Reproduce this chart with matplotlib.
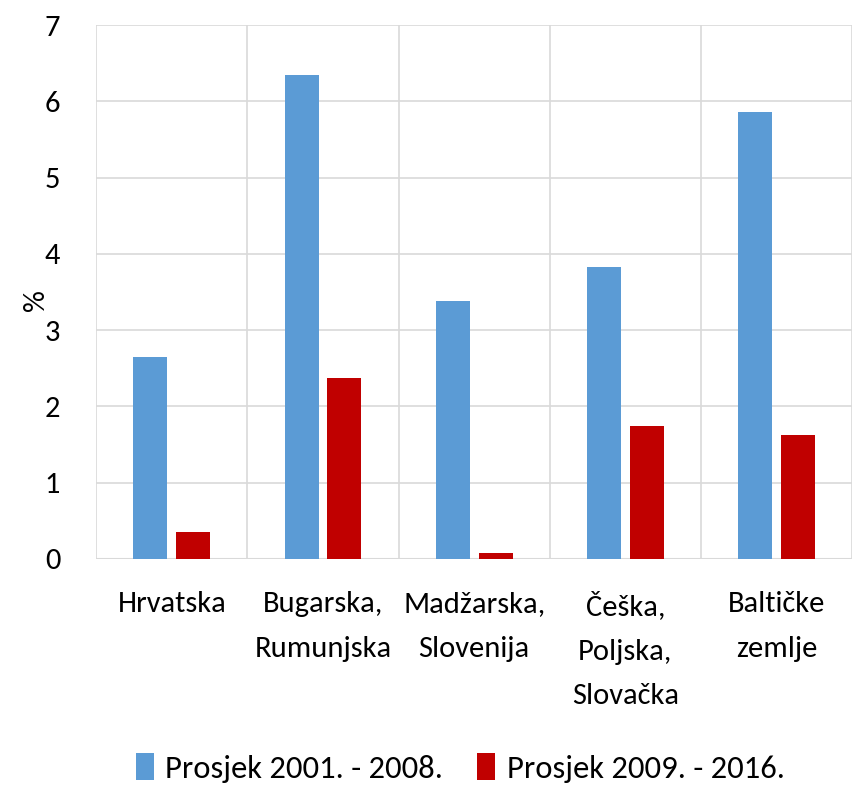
import matplotlib.pyplot as plt
import numpy as np

plt.rcParams['font.family'] = ['Carlito', 'Lato', 'DejaVu Sans']

categories = ['Hrvatska', 'Bugarska,\nRumunjska', 'Madžarska,\nSlovenija',
              'Češka,\nPoljska,\nSlovačka', 'Baltičke\nzemlje']
avg_2001_2008 = [2.65, 6.35, 3.38, 3.83, 5.86]
avg_2009_2016 = [0.35, 2.37, 0.07, 1.74, 1.62]
series_labels = ['Prosjek 2001. - 2008.', 'Prosjek 2009. - 2016.']

fig = plt.figure(figsize=(8.52, 7.87), dpi=100)
ax = fig.add_axes([0.113, 0.29, 0.887, 0.678])

x = np.arange(len(categories))
w = 0.225
ax.bar(x - 0.142, avg_2001_2008, w, color='#5b9bd5', label=series_labels[0], zorder=3)
ax.bar(x + 0.142, avg_2009_2016, w, color='#c00000', label=series_labels[1], zorder=3)

ax.set_xlim(-0.5, len(categories) - 0.5)
ax.set_ylim(0, 7)
ax.set_yticks(range(8))
ax.set_xticks(x)
ax.set_xticklabels(categories, fontsize=22, linespacing=1.9)
ax.set_xticks(np.arange(-0.5, len(categories)), minor=True)
ax.tick_params(axis='y', labelsize=22, length=0, pad=26)
ax.tick_params(axis='x', which='both', length=0, pad=23)
ax.grid(axis='y', color='#d9d9d9', lw=1.2, zorder=0)
ax.grid(axis='x', which='minor', color='#d9d9d9', lw=1.2, zorder=0)
for s in ['top', 'right', 'bottom', 'left']:
    ax.spines[s].set_visible(False)
ax.axhline(0, color='#d9d9d9', lw=1.5, zorder=2)

ax.set_ylabel('%', fontsize=22)
ax.yaxis.set_label_coords(-0.062, 0.485)

fig.legend(loc='center', bbox_to_anchor=(0.54, 0.024), ncol=2, frameon=False,
           fontsize=23.5, handlelength=0.55, handleheight=0.9, handletextpad=0.35,
           columnspacing=1.05)

fig.savefig('out.png', dpi=100)
